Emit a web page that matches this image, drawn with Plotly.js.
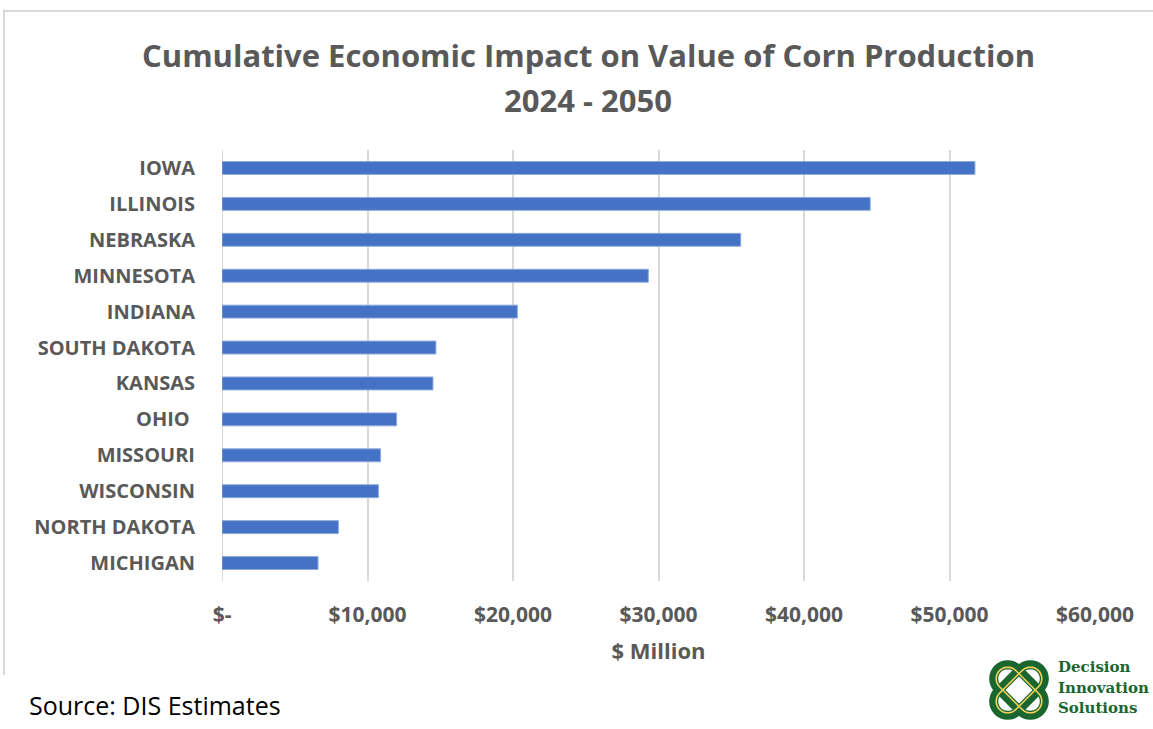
<!DOCTYPE html>
<html>
<head>
<meta charset="utf-8">
<script src="https://cdn.plot.ly/plotly-3.0.1.min.js"></script>
<style>html,body{margin:0;padding:0;background:#fff;}#chart{width:1153px;height:729px;}</style>
</head>
<body>
<div id="chart"></div>
<script>
// ---- data ----
const states = ["IOWA","ILLINOIS","NEBRASKA","MINNESOTA","INDIANA","SOUTH DAKOTA","KANSAS","OHIO ","MISSOURI","WISCONSIN","NORTH DAKOTA","MICHIGAN"];
const impact = [51750, 44550, 35650, 29300, 20300, 14700, 14500, 12000, 10900, 10750, 8000, 6600];
const tickVals = [0, 10000, 20000, 30000, 40000, 50000, 60000];
const tickText = ["$-", "$10,000", "$20,000", "$30,000", "$40,000", "$50,000", "$60,000"];
const titleLines = ["Cumulative Economic Impact on Value of Corn Production", "2024 - 2050"];
const xTitle = "$ Million";
const sourceText = "Source: DIS Estimates";
const logoLines = ["Decision", "Innovation", "Solutions"];

// ---- layout helpers (pixel -> paper) ----
const W = 1153, H = 729;
const M = {l: 222, r: 58, t: 150, b: 148};
const PW = W - M.l - M.r, PH = H - M.t - M.b;
const px = x => (x - M.l) / PW;
const py = y => (H - M.b - y) / PH;
const FONT = "Open Sans, sans-serif";

function stadium(cx, cy, len, w, ang) {
  const r = w / 2, h = len / 2 - r;
  const pts = [];
  const ca = Math.cos(ang), sa = Math.sin(ang);
  const add = (u, v) => pts.push([cx + u * ca - v * sa, cy + u * sa + v * ca]);
  for (let i = 0; i <= 16; i++) { const t = -Math.PI/2 + Math.PI * i / 16; add(h + r*Math.cos(t), r*Math.sin(t)); }
  for (let i = 0; i <= 16; i++) { const t = Math.PI/2 + Math.PI * i / 16; add(-h + r*Math.cos(t), r*Math.sin(t)); }
  return "M" + pts.map(p => px(p[0]).toFixed(5) + "," + py(p[1]).toFixed(5)).join(" L") + " Z";
}

const shapes = [
  {type:"line", xref:"paper", yref:"paper", x0:px(3), x1:px(1153), y0:py(11), y1:py(11), line:{color:"#d9d9d9", width:2}},
  {type:"line", xref:"paper", yref:"paper", x0:px(4), x1:px(4), y0:py(11), y1:py(675), line:{color:"#d9d9d9", width:2}}
];
const knot = [[1019, 690, 60, 28, Math.PI/4], [1019, 690, 60, 28, -Math.PI/4]];
knot.forEach(k => {
  shapes.push({type:"path", xref:"paper", yref:"paper", path:stadium(...k), line:{color:"#19662f", width:9}, fillcolor:"rgba(0,0,0,0)"});
});
knot.forEach(k => {
  shapes.push({type:"path", xref:"paper", yref:"paper", path:stadium(k[0], k[1], k[2]-5, k[3]-5, k[4]), line:{color:"#f2d15a", width:1.6}, fillcolor:"rgba(0,0,0,0)"});
});

const annotations = [
  {text: titleLines[0], xref:"paper", yref:"paper", x:px(588), y:py(55), xanchor:"center", yanchor:"middle", showarrow:false, font:{family:FONT, size:31, color:"#595959", weight:"bold"}},
  {text: titleLines[1], xref:"paper", yref:"paper", x:px(588), y:py(100), xanchor:"center", yanchor:"middle", showarrow:false, font:{family:FONT, size:31, color:"#595959", weight:"bold"}},
  {text: sourceText, xref:"paper", yref:"paper", x:px(27), y:py(705), xanchor:"left", yanchor:"middle", showarrow:false, font:{family:FONT, size:25, color:"#000"}}
];
[667, 688, 708].forEach((yy, i) => annotations.push({
  text: "<b>" + logoLines[i] + "</b>", xref:"paper", yref:"paper", x:px(1056), y:py(yy), xanchor:"left", yanchor:"middle", showarrow:false,
  font:{family:"DejaVu Serif, serif", size:15, color:"#19662f"}
}));

const trace = {
  type: "bar", orientation: "h", y: states, x: impact,
  marker: {color: "#4472c4", line: {color: "#8eaadb", width: 1}},
  hoverinfo: "none"
};

const layout = {
  width: W, height: H,
  margin: M,
  paper_bgcolor: "#fff", plot_bgcolor: "#fff",
  showlegend: false,
  bargap: 0.64,
  font: {family: FONT, color: "#595959"},
  xaxis: {
    range: [0, 60000], tickvals: tickVals, ticktext: tickText,
    showgrid: true, gridcolor: "#d9d9d9", gridwidth: 2,
    zeroline: false, showline: false, ticks: "",
    ticklabelstandoff: 19,
    tickfont: {size: 21, color: "#595959", weight: "bold"},
    title: {text: xTitle, font: {size: 22, color: "#595959", weight: "bold"}, standoff: 16},
    fixedrange: true
  },
  yaxis: {
    autorange: "reversed", type: "category",
    showgrid: false, zeroline: false, ticks: "",
    showline: false,
    ticklabelstandoff: 26,
    tickfont: {size: 20, color: "#595959", weight: "bold"},
    fixedrange: true
  },
  shapes: shapes.concat([{type:"line", xref:"x", yref:"paper", x0:0, x1:0, y0:0, y1:1, line:{color:"#d9d9d9", width:2}, layer:"below"}]),
  annotations: annotations
};

Plotly.newPlot("chart", [trace], layout, {staticPlot: true, displayModeBar: false});
</script>
</body>
</html>
